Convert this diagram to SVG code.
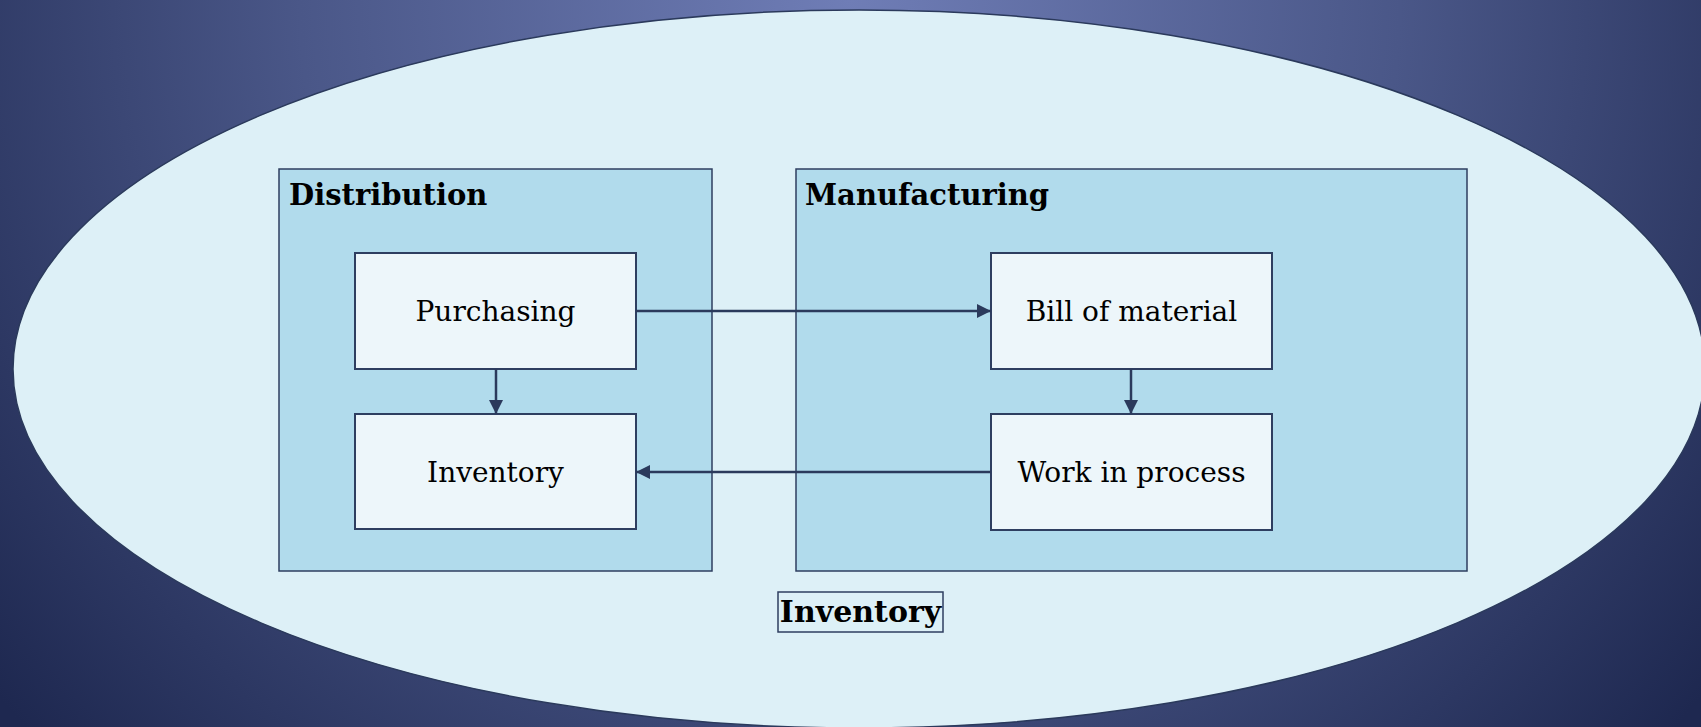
<svg xmlns="http://www.w3.org/2000/svg" width="1701" height="727" viewBox="0 0 1701 727">
<defs>
<radialGradient id="bg" cx="850" cy="0" r="1100" gradientUnits="userSpaceOnUse">
<stop offset="0" stop-color="#6f7db6"/>
<stop offset="0.5" stop-color="#4a5788"/>
<stop offset="1" stop-color="#1e2850"/>
</radialGradient>
<marker id="ah" viewBox="0 0 10 10" refX="10" refY="5" markerWidth="14" markerHeight="14" markerUnits="userSpaceOnUse" orient="auto">
<path d="M0,0 L10,5 L0,10 z" fill="#2b3a5c"/>
</marker>
<style>
.grp{fill:#b1dbec;stroke:#2e3e60;stroke-width:1.5}
.node{fill:#edf6fa;stroke:#2e3e60;stroke-width:2}
.lbl{font-family:"DejaVu Serif","Liberation Serif",serif;font-size:28px;fill:#000;text-anchor:middle}
.ttl{font-family:"DejaVu Serif","Liberation Serif",serif;font-size:29px;font-weight:bold;fill:#000}
.conn{stroke:#2b3a5c;stroke-width:2.5;fill:none;marker-end:url(#ah)}
</style>
</defs>
<rect x="0" y="0" width="1701" height="727" fill="url(#bg)"/>
<ellipse cx="859" cy="369" rx="846" ry="359" fill="#ddf0f7" stroke="#2b3a5c" stroke-width="1.5"/>
<g id="distribution">
<rect class="grp" x="279" y="169" width="433" height="402"/>
<text class="ttl" x="289" y="205">Distribution</text>
</g>
<g id="manufacturing">
<rect class="grp" x="796" y="169" width="671" height="402"/>
<text class="ttl" x="805" y="205">Manufacturing</text>
</g>
<g id="purchasing">
<rect class="node" x="355" y="253" width="281" height="116"/>
<text class="lbl" x="495.500" y="321">Purchasing</text>
</g>
<g id="inventory">
<rect class="node" x="355" y="414" width="281" height="115"/>
<text class="lbl" x="495.500" y="482">Inventory</text>
</g>
<g id="bill">
<rect class="node" x="991" y="253" width="281" height="116"/>
<text class="lbl" x="1131.500" y="321">Bill of material</text>
</g>
<g id="wip">
<rect class="node" x="991" y="414" width="281" height="116"/>
<text class="lbl" x="1131.500" y="482">Work in process</text>
</g>
<g id="inventory-label">
<rect x="778" y="592" width="165" height="40" fill="none" stroke="#2e3e60" stroke-width="1.5"/>
<text class="ttl" x="860.500" y="622" text-anchor="middle" style="font-size:30px">Inventory</text>
</g>
<g id="connectors">
<line class="conn" x1="636" y1="311" x2="991" y2="311"/>
<line class="conn" x1="496" y1="369" x2="496" y2="414"/>
<line class="conn" x1="1131" y1="369" x2="1131" y2="414"/>
<line class="conn" x1="991" y1="472" x2="636" y2="472"/>
</g>
</svg>
